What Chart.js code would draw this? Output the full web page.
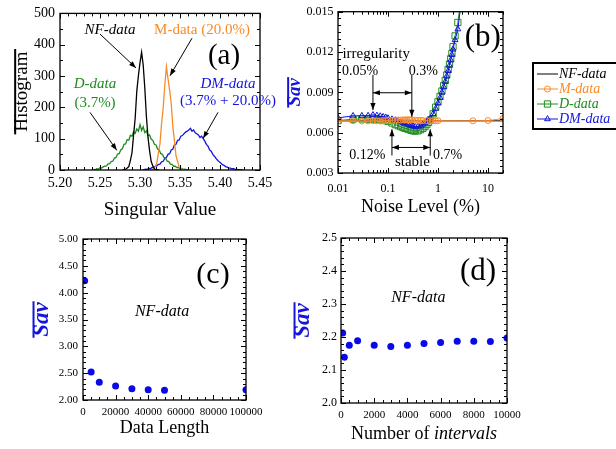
<!DOCTYPE html>
<html>
<head>
<meta charset="utf-8">
<script src="https://cdn.jsdelivr.net/npm/chart.js@4.4.1/dist/chart.umd.min.js"></script>
<style>
  body { margin: 0; background: #fff; width: 616px; height: 449px; overflow: hidden; position: relative; }
  canvas { position: absolute; }
</style>
</head>
<body>
<canvas id="ca" width="300" height="225" style="left:0;top:0"></canvas>
<canvas id="cb" width="336" height="225" style="left:280px;top:0"></canvas>
<canvas id="cc" width="300" height="224" style="left:0;top:225px"></canvas>
<canvas id="cd" width="346" height="224" style="left:270px;top:225px"></canvas>
<script>
// (a) histograms of the singular value, bins of 0.002
const binWidth = 0.002
const nfStart = 5.278
const nfCounts = [0, 1, 2, 6, 11, 31, 55, 112, 166, 252, 301, 342, 376, 335, 262, 171, 104, 61, 27, 13, 4, 1, 0, 0]
const mStart = 5.313
const mCounts = [0, 1, 3, 11, 22, 54, 85, 150, 198, 270, 330, 292, 255, 214, 140, 94, 46, 27, 9, 5, 1, 0, 0]
const dStart = 5.242
const dCounts = [2, 1, 4, 3, 7, 6, 10, 12, 13, 19, 20, 27, 28, 38, 40, 51, 52, 65, 68, 82,
  83, 97, 95, 111, 108, 122, 117, 131, 124, 145, 126, 138, 119, 125, 110, 112, 98, 95, 82, 80,
  67, 64, 52, 50, 40, 38, 28, 27, 19, 18, 12, 12, 8, 8, 4, 5, 2, 3, 1, 0]
const dmStart = 5.303
const dmCounts = [0, 1, 3, 2, 5, 4, 8, 8, 12, 13, 18, 19, 26, 28, 37, 40, 50, 52, 64, 66,
  80, 82, 95, 96, 108, 110, 116, 121, 124, 128, 133, 124, 128, 119, 116, 112, 104, 108, 100, 92,
  82, 76, 64, 60, 50, 44, 37, 31, 26, 22, 17, 15, 11, 9, 7, 6, 4, 4, 2, 2, 1, 1, 0, 0]

// (b) Sav against noise level (%)
const noiseNF = [0.01, 20]
const savNF = [0.00688, 0.00688]
const noiseM = [0.01, 0.02, 0.03, 0.04, 0.05, 0.06, 0.07, 0.08, 0.09, 0.1, 0.12, 0.14, 0.16, 0.18, 0.2,
  0.22, 0.24, 0.26, 0.28, 0.3, 0.35, 0.4, 0.45, 0.5, 0.6, 0.7, 0.8, 0.9, 1, 5, 10, 20]
const savM = [0.00688, 0.00689, 0.00687, 0.00688, 0.00689, 0.00688, 0.00687, 0.00689, 0.0069, 0.00691,
  0.00692, 0.00693, 0.00694, 0.00693, 0.00695, 0.00694, 0.00696, 0.00695, 0.00694, 0.00695, 0.00693,
  0.00692, 0.00691, 0.0069, 0.00689, 0.00688, 0.00689, 0.00688, 0.00689, 0.00688, 0.0069, 0.00705]
const noiseD = [0.01, 0.02, 0.03, 0.04, 0.05, 0.06, 0.07, 0.08, 0.09, 0.1, 0.12, 0.14, 0.16, 0.18, 0.2,
  0.22, 0.25, 0.28, 0.3, 0.32, 0.35, 0.4, 0.45, 0.5, 0.55, 0.6, 0.65, 0.7, 0.8, 0.9, 1.0,
  1.1, 1.2, 1.3, 1.4, 1.5, 1.6, 1.7, 1.8, 1.9, 2.0, 2.2, 2.5, 2.8]
const savD = [0.0069, 0.007, 0.00702, 0.007, 0.00701, 0.00699, 0.00697, 0.00694, 0.0069, 0.00685,
  0.00672, 0.0066, 0.00652, 0.00645, 0.00638, 0.00632, 0.00626, 0.0062, 0.00617, 0.00614, 0.00612,
  0.00614, 0.00622, 0.00632, 0.00645, 0.0066, 0.00676, 0.00695, 0.0074, 0.0079, 0.0083,
  0.0087, 0.0091, 0.0095, 0.0099, 0.0103, 0.0107, 0.0111, 0.0115, 0.0119, 0.0124, 0.0132, 0.0142, 0.0156]
const noiseDM = noiseD
const savDM = [0.0071, 0.00725, 0.00726, 0.00727, 0.00732, 0.00728, 0.00723, 0.00718, 0.00714, 0.00708,
  0.007, 0.00693, 0.00686, 0.0068, 0.00674, 0.00668, 0.00661, 0.00655, 0.00651, 0.00648, 0.00645,
  0.00646, 0.00652, 0.00662, 0.00672, 0.00684, 0.00694, 0.00705, 0.0074, 0.0078, 0.0082,
  0.0086, 0.009, 0.0094, 0.0098, 0.0102, 0.0106, 0.011, 0.0114, 0.0118, 0.0122, 0.0129, 0.0137, 0.0152]

// (c) mean Sav against data length, NF-data
const dataLength = [1000, 5000, 10000, 20000, 30000, 40000, 50000, 100000]
const savLength = [4.22, 2.52, 2.33, 2.26, 2.21, 2.19, 2.18, 2.19]

// (d) mean Sav against number of intervals, NF-data
const intervals = [100, 200, 500, 1000, 2000, 3000, 4000, 5000, 6000, 7000, 8000, 9000, 10000]
const savIntervals = [2.212, 2.139, 2.175, 2.189, 2.175, 2.171, 2.175, 2.18, 2.183, 2.187, 2.187, 2.186, 2.197]

const serif = '"Liberation Serif", "Times New Roman", serif'
const black = "#000"
const orange = "#f98a2a"
const green = "#1e8c1e"
const blue = "#1414dc"
const dotBlue = "#0a0ae8"

Chart.defaults.font.family = serif
Chart.defaults.color = "#000"
Chart.defaults.animation = false
Chart.defaults.plugins.legend.display = false
Chart.defaults.plugins.tooltip.enabled = false

const hist = (start, counts) => counts.map((c, i) => ({ x: start + i * binWidth, y: c }))
const pairs = (xs, ys) => xs.map((v, i) => ({ x: v, y: ys[i] }))

function seg(ctx, x1, y1, x2, y2) {
  ctx.beginPath()
  ctx.moveTo(x1, y1)
  ctx.lineTo(x2, y2)
  ctx.stroke()
}

function linMarks(min, max, step, n) {
  const out = []
  const k = Math.round(((max - min) / step) * n)
  for (let i = 0; i <= k; i++) out.push([min + (i * step) / n, i % n === 0])
  return out
}

function logMarks(min, max) {
  const out = []
  for (let e = Math.floor(Math.log10(min)); e <= Math.ceil(Math.log10(max)); e++) {
    for (let m = 1; m < 10; m++) {
      const v = m * Math.pow(10, e)
      if (v >= min * 0.999 && v <= max * 1.001) out.push([v, m === 1])
    }
  }
  return out
}

// box round the plot with inward ticks on all four sides
const frame = {
  id: "frame",
  afterDraw(chart, args, o) {
    const { ctx, chartArea: a } = chart
    const x = chart.scales.x
    const y = chart.scales.y
    ctx.save()
    ctx.strokeStyle = "#000"
    ctx.lineWidth = 1
    const xm = o.logX ? logMarks(x.min, x.max) : linMarks(x.min, x.max, o.xStep, o.xMinor)
    xm.forEach(([v, major]) => {
      const p = Math.round(x.getPixelForValue(v)) + 0.5
      const l = major ? 5 : 3
      seg(ctx, p, a.bottom, p, a.bottom - l)
      seg(ctx, p, a.top, p, a.top + l)
    })
    linMarks(y.min, y.max, o.yStep, o.yMinor).forEach(([v, major]) => {
      const p = Math.round(y.getPixelForValue(v)) + 0.5
      const l = major ? 5 : 3
      seg(ctx, a.left, p, a.left + l, p)
      seg(ctx, a.right, p, a.right - l, p)
    })
    ctx.lineWidth = 1.3
    ctx.strokeRect(a.left, a.top, a.right - a.left, a.bottom - a.top)
    ctx.restore()
  },
}

function arrowHead(ctx, x1, y1, x2, y2) {
  const ang = Math.atan2(y2 - y1, x2 - x1)
  const len = 7
  const w = 2.6
  ctx.beginPath()
  ctx.moveTo(x2, y2)
  ctx.lineTo(x2 - len * Math.cos(ang) + w * Math.sin(ang), y2 - len * Math.sin(ang) - w * Math.cos(ang))
  ctx.lineTo(x2 - len * Math.cos(ang) - w * Math.sin(ang), y2 - len * Math.sin(ang) + w * Math.cos(ang))
  ctx.closePath()
  ctx.fill()
}

// text labels and arrows placed in data units
const notes = {
  id: "notes",
  afterDraw(chart, args, o) {
    const { ctx } = chart
    const x = chart.scales.x
    const y = chart.scales.y
    ctx.save()
    ctx.strokeStyle = "#000"
    ctx.fillStyle = "#000"
    ctx.lineWidth = o.arrowWidth || 1
    ;(o.arrows || []).forEach((a) => {
      const x1 = x.getPixelForValue(a.from[0])
      const y1 = y.getPixelForValue(a.from[1])
      const x2 = x.getPixelForValue(a.to[0])
      const y2 = y.getPixelForValue(a.to[1])
      seg(ctx, x1, y1, x2, y2)
      arrowHead(ctx, x1, y1, x2, y2)
      if (a.both) arrowHead(ctx, x2, y2, x1, y1)
    })
    ctx.textAlign = "center"
    ctx.textBaseline = "middle"
    ;(o.texts || []).forEach((t) => {
      ctx.font = t.font
      ctx.fillStyle = t.color || "#000"
      ctx.fillText(t.text, x.getPixelForValue(t.x), y.getPixelForValue(t.y))
    })
    ctx.restore()
  },
}

// bar over the rotated y title (mean value)
const overline = {
  id: "overline",
  afterDraw(chart) {
    const s = chart.scales.y
    const t = s.options.title
    const size = t.font.size
    const cx = s.left + (size * 1.2) / 2 + t.padding.top
    const cy = (chart.chartArea.top + chart.chartArea.bottom) / 2
    const { ctx } = chart
    ctx.save()
    ctx.font = "bold italic " + size + "px " + serif
    const w = ctx.measureText(t.text).width
    ctx.strokeStyle = t.color
    ctx.lineWidth = 2
    seg(ctx, cx - size * 0.36, cy - w / 2 - 1, cx - size * 0.36, cy + w / 2 + 1)
    ctx.restore()
  },
}

// x title with mixed upright and italic parts
const mixedTitle = {
  id: "mixedTitle",
  afterDraw(chart, args, o) {
    if (!o.parts) return
    const { ctx, chartArea: a } = chart
    ctx.save()
    ctx.textBaseline = "middle"
    ctx.textAlign = "left"
    ctx.fillStyle = "#000"
    const fonts = o.parts.map((p) => (p.italic ? "italic " : "") + o.size + "px " + serif)
    let total = 0
    o.parts.forEach((p, i) => {
      ctx.font = fonts[i]
      total += ctx.measureText(p.text).width
    })
    let px = (a.left + a.right) / 2 - total / 2
    o.parts.forEach((p, i) => {
      ctx.font = fonts[i]
      ctx.fillText(p.text, px, a.bottom + o.dy)
      px += ctx.measureText(p.text).width
    })
    ctx.restore()
  },
}

function marker(ctx, style, r, x, y) {
  ctx.beginPath()
  if (style === "rect") {
    const s = r * Math.SQRT1_2
    ctx.rect(x - s, y - s, 2 * s, 2 * s)
  } else if (style === "triangle") {
    ctx.moveTo(x, y - r)
    ctx.lineTo(x - r * 0.866, y + r / 2)
    ctx.lineTo(x + r * 0.866, y + r / 2)
    ctx.closePath()
  } else {
    ctx.arc(x, y, r, 0, Math.PI * 2)
  }
  ctx.stroke()
}

// boxed legend standing right of panel (b)
const boxLegend = {
  id: "boxLegend",
  afterDraw(chart, args, o) {
    if (!o.show) return
    const { ctx } = chart
    ctx.save()
    ctx.strokeStyle = "#000"
    ctx.lineWidth = 2
    ctx.strokeRect(o.left, o.top, o.width, o.height)
    ctx.textAlign = "left"
    ctx.textBaseline = "middle"
    ctx.font = "italic 14px " + serif
    chart.data.datasets.forEach((ds, i) => {
      const cy = o.top + o.first + i * o.rowH
      ctx.strokeStyle = ds.borderColor
      ctx.lineWidth = 1
      seg(ctx, o.left + 4, cy, o.left + 25, cy)
      if (ds.pointRadius > 0) marker(ctx, ds.pointStyle, ds.pointRadius, o.left + 14.5, cy)
      ctx.fillStyle = ds.borderColor
      ctx.fillText(ds.label, o.left + 26, cy + 0.5)
    })
    ctx.restore()
  },
}

Chart.register(frame, notes, overline, mixedTitle, boxLegend)

function axes(o) {
  return {
    x: {
      type: o.xType || "linear",
      min: o.xMin,
      max: o.xMax,
      grid: { display: false, drawTicks: false },
      border: { display: false },
      ticks: {
        stepSize: o.xStep,
        autoSkip: false,
        maxRotation: 0,
        padding: o.xPad,
        font: { size: o.xFont },
        callback: o.xLabel,
      },
      title: o.xTitle
        ? { display: true, text: o.xTitle, font: { size: o.xTitleSize }, padding: { top: 0, bottom: o.xTitlePad } }
        : { display: false },
      afterFit: (s) => { s.height = o.xHeight },
    },
    y: {
      min: o.yMin,
      max: o.yMax,
      grid: { display: false, drawTicks: false },
      border: { display: false },
      ticks: {
        stepSize: o.yStep,
        autoSkip: false,
        padding: o.yPad,
        font: { size: o.yFont },
        callback: o.yLabel,
      },
      title: {
        display: true,
        text: o.yTitle,
        color: o.yTitleColor || "#000",
        font: o.yTitleFont,
        padding: { top: o.yTitlePad, bottom: 0 },
      },
      afterFit: (s) => { s.width = o.yWidth },
    },
  }
}

// panel (a)
new Chart(document.getElementById("ca"), {
  type: "line",
  data: {
    datasets: [
      { label: "NF-data", data: hist(nfStart, nfCounts), borderColor: black },
      { label: "M-data", data: hist(mStart, mCounts), borderColor: orange },
      { label: "D-data", data: hist(dStart, dCounts), borderColor: green },
      { label: "DM-data", data: hist(dmStart, dmCounts), borderColor: blue },
    ].map((d) => Object.assign(d, { borderWidth: 1.3, pointRadius: 0, tension: 0 })),
  },
  options: {
    responsive: false,
    layout: { padding: { left: 0, top: 12, right: 40, bottom: 0 } },
    scales: axes({
      xMin: 5.2, xMax: 5.45, xStep: 0.05, xPad: 5, xFont: 14, xLabel: (v) => v.toFixed(2),
      xTitle: "Singular Value", xTitleSize: 19, xTitlePad: 3.6, xHeight: 55,
      yMin: 0, yMax: 500, yStep: 100, yPad: 5, yFont: 14, yLabel: (v) => String(v),
      yTitle: "Histogram", yTitleFont: { size: 19 }, yTitlePad: 10.6, yWidth: 60,
    }),
    plugins: {
      frame: { xStep: 0.05, xMinor: 5, yStep: 100, yMinor: 2 },
      notes: {
        arrows: [
          { from: [5.25, 434], to: [5.295, 326] },
          { from: [5.365, 421], to: [5.3375, 301] },
          { from: [5.2375, 184], to: [5.271, 63] },
          { from: [5.3975, 184], to: [5.379, 101] },
        ],
        texts: [
          { text: "NF-data", x: 5.2625, y: 446, font: "italic 15px " + serif, color: black },
          { text: "M-data (20.0%)", x: 5.3775, y: 446, font: "15px " + serif, color: orange },
          { text: "(a)", x: 5.405, y: 364, font: "29px " + serif, color: black },
          { text: "D-data", x: 5.24375, y: 275, font: "italic 15px " + serif, color: green },
          { text: "(3.7%)", x: 5.24375, y: 215, font: "15px " + serif, color: green },
          { text: "DM-data", x: 5.41, y: 275, font: "italic 15px " + serif, color: blue },
          { text: "(3.7% + 20.0%)", x: 5.41, y: 221, font: "15px " + serif, color: blue },
        ],
      },
    },
  },
})

// panel (b)
new Chart(document.getElementById("cb"), {
  type: "line",
  data: {
    datasets: [
      { label: "NF-data", data: pairs(noiseNF, savNF), borderColor: black, pointRadius: 0, order: 3 },
      { label: "M-data", data: pairs(noiseM, savM), borderColor: orange, pointStyle: "circle", pointRadius: 3, order: 0 },
      { label: "D-data", data: pairs(noiseD, savD), borderColor: green, pointStyle: "rect", pointRadius: 4.4, order: 2 },
      { label: "DM-data", data: pairs(noiseDM, savDM), borderColor: blue, pointStyle: "triangle", pointRadius: 3.4, order: 1 },
    ].map((d) => Object.assign(d, {
      borderWidth: 1, pointBorderWidth: 1, pointBorderColor: d.borderColor,
      pointBackgroundColor: "rgba(0,0,0,0)", tension: 0,
    })),
  },
  options: {
    responsive: false,
    layout: { padding: { left: 0, top: 6, right: 113, bottom: 0 } },
    scales: axes({
      xType: "logarithmic", xMin: 0.01, xMax: 20, xPad: 9, xFont: 12,
      xLabel: (v) => ([0.01, 0.1, 1, 10].some((t) => Math.abs(v - t) / t < 1e-6) ? String(v) : ""),
      xTitle: "Noise Level (%)", xTitleSize: 18, xTitlePad: 7, xHeight: 52,
      yMin: 0.003, yMax: 0.015, yStep: 0.003, yPad: 4.5, yFont: 12, yLabel: (v) => v.toFixed(3),
      yTitle: "Sav", yTitleColor: blue, yTitleFont: { size: 19, style: "italic", weight: "bold" }, yTitlePad: 3.6, yWidth: 58,
    }),
    plugins: {
      frame: { logX: true, yStep: 0.003, yMinor: 6 },
      notes: {
        arrows: [
          { from: [0.05, 0.0103], to: [0.05, 0.00768] },
          { from: [0.3, 0.0103], to: [0.3, 0.00718] },
          { from: [0.05, 0.00897], to: [0.3, 0.00897], both: true },
          { from: [0.12, 0.0043], to: [0.12, 0.00625] },
          { from: [0.7, 0.0043], to: [0.7, 0.00625] },
          { from: [0.12, 0.0049], to: [0.7, 0.0049], both: true },
        ],
        texts: [
          { text: "irregularity", x: 0.058, y: 0.01184, font: "15px " + serif },
          { text: "0.05%", x: 0.0277, y: 0.01055, font: "14px " + serif },
          { text: "0.3%", x: 0.51, y: 0.01055, font: "14px " + serif },
          { text: "0.12%", x: 0.0384, y: 0.00431, font: "14px " + serif },
          { text: "stable", x: 0.308, y: 0.00381, font: "15px " + serif },
          { text: "0.7%", x: 1.56, y: 0.00431, font: "14px " + serif },
          { text: "(b)", x: 7.9, y: 0.01306, font: "31px " + serif },
        ],
      },
      boxLegend: { show: true, left: 253, top: 63, width: 90, height: 66, first: 11, rowH: 15 },
    },
  },
})

// panels (c) and (d) share the dotted look
const dots = (xs, ys) => ({
  datasets: [{
    label: "NF-data", data: pairs(xs, ys), showLine: false,
    pointRadius: 3.5, pointBackgroundColor: dotBlue, pointBorderColor: dotBlue, pointBorderWidth: 0,
  }],
})

new Chart(document.getElementById("cc"), {
  type: "line",
  data: dots(dataLength, savLength),
  options: {
    responsive: false,
    layout: { padding: { left: 0, top: 14, right: 54, bottom: 0 } },
    scales: axes({
      xMin: 0, xMax: 100000, xStep: 20000, xPad: 5.5, xFont: 11, xLabel: (v) => String(v),
      xTitle: "Data Length", xTitleSize: 18, xTitlePad: 10, xHeight: 49,
      yMin: 2, yMax: 5, yStep: 0.5, yPad: 5, yFont: 11, yLabel: (v) => v.toFixed(2),
      yTitle: "Sav", yTitleColor: blue, yTitleFont: { size: 23, style: "italic", weight: "bold" }, yTitlePad: 28, yWidth: 83,
    }),
    plugins: {
      frame: { xStep: 20000, xMinor: 4, yStep: 0.5, yMinor: 5 },
      overline: {},
      notes: {
        texts: [
          { text: "NF-data", x: 48500, y: 3.64, font: "italic 16px " + serif },
          { text: "(c)", x: 79750, y: 4.33, font: "30px " + serif },
        ],
      },
    },
  },
})

new Chart(document.getElementById("cd"), {
  type: "line",
  data: dots(intervals, savIntervals),
  options: {
    responsive: false,
    layout: { padding: { left: 0, top: 13, right: 109, bottom: 0 } },
    scales: axes({
      xMin: 0, xMax: 10000, xStep: 2000, xPad: 5.5, xFont: 11, xLabel: (v) => String(v),
      xTitle: null, xHeight: 46,
      yMin: 2, yMax: 2.5, yStep: 0.1, yPad: 4, yFont: 12, yLabel: (v) => v.toFixed(1),
      yTitle: "Sav", yTitleColor: blue, yTitleFont: { size: 23, style: "italic", weight: "bold" }, yTitlePad: 19, yWidth: 71,
    }),
    plugins: {
      frame: { xStep: 2000, xMinor: 4, yStep: 0.1, yMinor: 5 },
      overline: {},
      mixedTitle: { parts: [{ text: "Number of " }, { text: "intervals", italic: true }], size: 18, dy: 31 },
      notes: {
        texts: [
          { text: "NF-data", x: 4657, y: 2.319, font: "italic 16px " + serif },
          { text: "(d)", x: 8253, y: 2.397, font: "31px " + serif },
        ],
      },
    },
  },
})
</script>
</body>
</html>
